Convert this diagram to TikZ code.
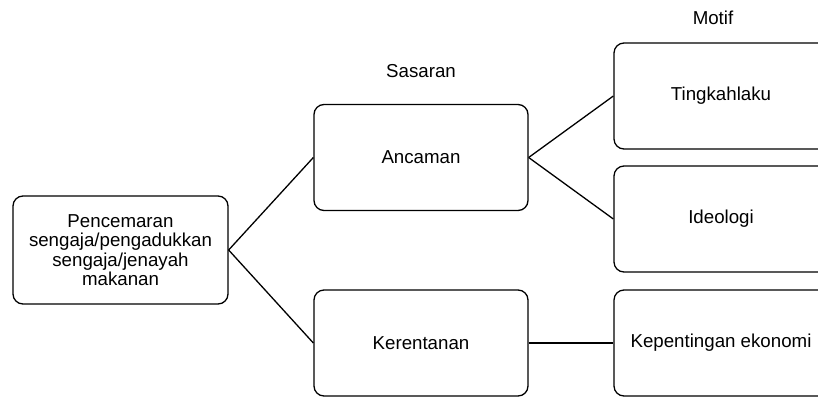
\documentclass[tikz,border=0pt]{standalone}
\usepackage{fontspec}
\setmainfont{Liberation Sans}
\begin{document}
\begin{tikzpicture}[x=1pt,y=-1pt,
  box/.style={draw, line width=1.3pt, rounded corners=10pt, minimum width=214pt, minimum height=106pt, inner sep=0pt, align=center, font=\fontsize{18.7}{19.4}\selectfont},
  lbl/.style={font=\fontsize{18.7}{19.4}\selectfont, inner sep=0pt},
  link/.style={line width=1.3pt}]
\useasboundingbox (0,0) rectangle (818,396);
\node[box, minimum width=215pt, minimum height=108pt] (src) at (120.5,250) {Pencemaran\\sengaja/pengadukkan\\sengaja/jenayah\\makanan};
\node[box] (anc) at (421,157.5) {Ancaman};
\node[box] (ker) at (421,343) {Kerentanan};
\node[box] (ting) at (721,96) {Tingkahlaku};
\node[box] (ideo) at (721,219) {Ideologi};
\node[box] (kep) at (721,343) {Kepentingan ekonomi};
\node[lbl] (sas) at (421,71) {Sasaran};
\node[lbl] (mot) at (713,18) {Motif};
\draw[link] (src.east) -- (anc.west);
\draw[link] (src.east) -- (ker.west);
\draw[link] (anc.east) -- (ting.west);
\draw[link] (anc.east) -- (ideo.west);
\draw[link] (ker.east) -- (kep.west);
\end{tikzpicture}
\end{document}
